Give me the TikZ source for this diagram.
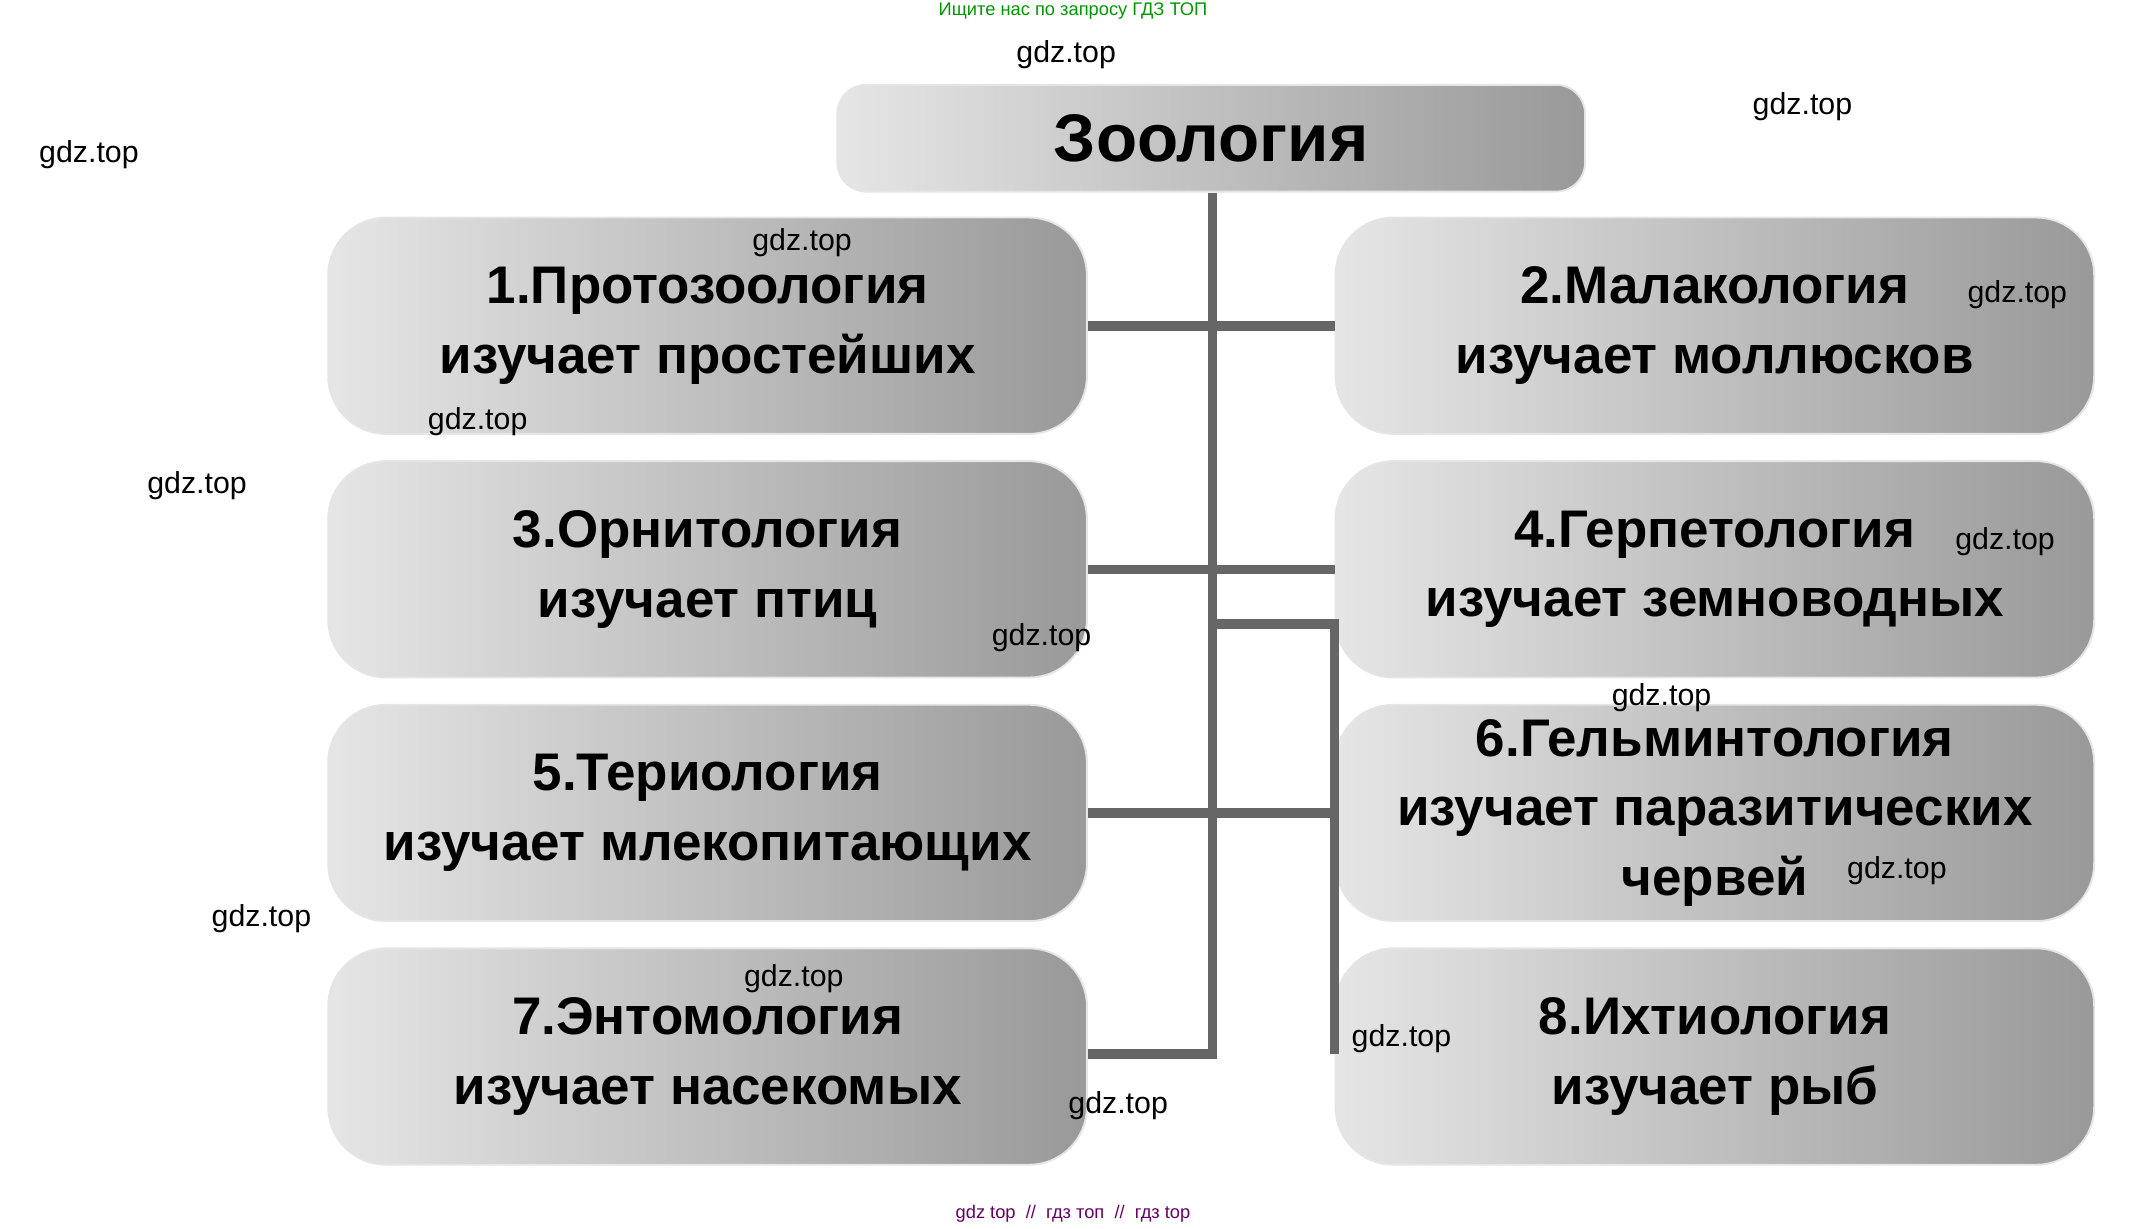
\documentclass[tikz,border=0pt]{standalone}
\usepackage{fontspec}
\setmainfont{Liberation Sans}
\usetikzlibrary{positioning}
\begin{document}
\begin{tikzpicture}[x=0.01cm,y=-0.01cm]
  \tikzset{
    branch/.style={draw=black!10, rounded corners=12pt, left color=gray!20, right color=gray!80,
      minimum width=5.54cm, minimum height=1.58cm, align=center, inner sep=2pt,
      font=\fontsize{11}{14.5}\selectfont\bfseries},
    link/.style={draw=gray!80!black, line width=2pt},
    wmark/.style={font=\fontsize{6.3}{7}\selectfont}
  }
  \useasboundingbox (0,0) rectangle (1568,898);

  % Title
  \node[branch, minimum width=5.46cm, minimum height=0.78cm, rounded corners=6pt,
    font=\fontsize{14}{17}\selectfont\bfseries] (zoo) at (885,101) {Зоология};

  % Left column
  \node[branch] (b1) at (517,238) {1.Протозоология\\изучает простейших};
  \node[branch] (b3) at (517,416) {3.Орнитология\\изучает птиц};
  \node[branch] (b5) at (517,594) {5.Териология\\изучает млекопитающих};
  \node[branch] (b7) at (517,772) {7.Энтомология\\изучает насекомых};

  % Right column
  \node[branch] (b2) at (1253,238) {2.Малакология\\изучает моллюсков};
  \node[branch] (b4) at (1253,416) {4.Герпетология\\изучает земноводных};
  \node[branch] (b6) at (1253,594) {6.Гельминтология\\изучает паразитических\\червей};
  \node[branch] (b8) at (1253,772) {8.Ихтиология\\изучает рыб};

  % Connectors
  \coordinate (trunk) at (886,770);
  \coordinate (fork) at (886,456);
  \coordinate (side) at (975,770);
  \draw[link] (zoo.south -| trunk) -- (trunk) -- (trunk -| b7.east);
  \draw[link] (b1.east) -- (b2.west);
  \draw[link] (b3.east) -- (b4.west);
  \draw[link] (b5.east) -- (b6.west);
  \draw[link] (fork) -- (fork -| side) -- (side);

  % Watermarks
  \node[text=green!60!black, font=\fontsize{3.8}{4}\selectfont] (wtop) at (784,8) {Ищите нас по запросу ГДЗ ТОП};
  \node[text=violet!80!black, font=\fontsize{3.8}{4}\selectfont] (wbot) at (784,887) {gdz top \ // \ гдз топ \ // \ гдз top};
  \foreach \x/\y [count=\i] in {779/40, 1317/78, 65/113, 586/177, 1474/215, 349/308, 144/355,
      1465/396, 761/466, 1214/510, 1386/636, 191/671, 580/715, 1024/759, 817/808}
    \node[wmark] (w\i) at (\x,\y) {gdz.top};
\end{tikzpicture}
\end{document}
